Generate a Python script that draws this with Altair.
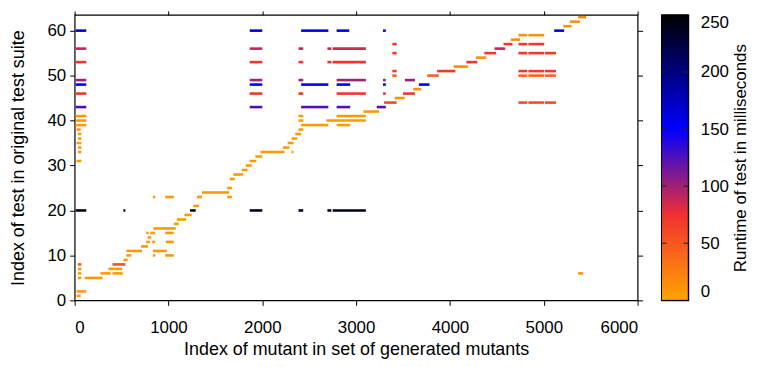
import altair as alt
import pandas as pd

# Segments: (start index, end index, test index, runtime ms)
x_start = [10, 10, 10, 10, 10, 10, 10, 10, 10, 10, 20, 35, 35, 20, 35, 35, 20,
           10, 520, 1230, 1866, 2386, 2694, 2750,
           35, 403, 35, 360, 35, 276, 403, 35, 106, 20, 20,
           520, 551, 834, 965, 551, 834, 707, 763, 827, 972, 777, 763, 806, 965,
           838, 1057, 1089, 1170, 1265, 834, 965, 1304, 1626, 1357, 1626, 1654,
           1690, 1781, 1824, 1866, 1926, 1980, 2312, 2220, 2270, 2312, 2350, 2386,
           2414, 2792, 2386, 2683, 2386, 2792, 3079,
           1866, 1866, 1866, 1866, 1866, 1866, 1866,
           2386, 2386, 2386, 2386,
           2414, 2414, 2414,
           2694, 2694, 2750, 2750,
           2792, 2792, 2792, 2792, 2792,
           3287, 3287, 3287, 3287, 3220,
           3386, 3386, 3386, 3386, 3298, 3411, 3500, 3520, 3609, 3669, 3757, 3863,
           4040, 4175, 4277, 4366, 4475, 4571, 4648,
           4730, 4836, 4730, 4836,
           4730, 4836, 5013, 4730, 4836, 5013, 4730, 4836, 5013, 4730, 4836, 5013,
           5111, 5207, 5278, 5366, 5366]
x_end = [124, 124, 124, 124, 124, 124, 124, 124, 124, 124, 65, 71, 71, 71, 71, 71, 71,
         124, 540, 1290, 2000, 2436, 2736, 3104,
         71, 541, 71, 506, 71, 382, 512, 71, 297, 124, 65,
         565, 604, 859, 1057, 718, 983, 781, 802, 859, 1057, 817, 788, 859, 1057,
         1078, 1110, 1188, 1248, 1325, 859, 1057, 1357, 1676, 1647, 1676, 1707,
         1796, 1842, 1888, 1937, 2000, 2237, 2333, 2290, 2333, 2372, 2414, 2436,
         2704, 2937, 2436, 3104, 2436, 3104, 3245,
         2000, 2000, 2000, 2000, 2000, 2000, 2000,
         2436, 2436, 2436, 2436,
         2704, 2704, 2704,
         2736, 2736, 3104, 3104,
         3104, 3104, 2927, 2937, 2937,
         3316, 3316, 3316, 3316, 3316,
         3432, 3432, 3432, 3432, 3432, 3517, 3627, 3627, 3694, 3782, 3881, 4058,
         4192, 4292, 4387, 4493, 4589, 4666, 4747,
         4825, 5005, 4825, 5005,
         4825, 5005, 5130, 4825, 5005, 5130, 4825, 5005, 5130, 4825, 5005, 5130,
         5217, 5296, 5384, 5451, 5419]
test_index = [60, 56, 53, 49, 48, 46, 43, 41, 40, 39, 38, 37, 36, 35, 34, 33, 31,
              20, 20, 20, 20, 20, 20, 20,
              8, 8, 7, 7, 6, 6, 6, 5, 5, 2, 1,
              9, 10, 10, 10, 11, 11, 12, 13, 13, 13, 14, 15, 15, 15,
              16, 17, 18, 19, 21, 23, 23, 23, 23, 24, 25, 27,
              28, 29, 30, 31, 32, 33, 33, 34, 35, 36, 37, 38,
              39, 39, 40, 40, 41, 41, 42,
              60, 56, 53, 49, 48, 46, 43,
              56, 53, 49, 46,
              60, 48, 43,
              56, 53, 56, 53,
              49, 46, 60, 48, 43,
              60, 49, 48, 46, 43,
              57, 55, 51, 50, 44, 45, 46, 49, 47, 48, 50, 51,
              52, 53, 54, 55, 56, 57, 58,
              59, 59, 57, 57,
              55, 55, 55, 51, 51, 51, 50, 50, 50, 44, 44, 44,
              60, 61, 62, 63, 6]
runtime_ms = [158, 90, 72, 100, 152, 72, 125, 8, 8, 8, 8, 8, 8, 8, 8, 8, 8,
              240, 240, 240, 240, 240, 240, 240,
              50, 55, 8, 8, 8, 8, 8, 8, 8, 8, 8,
              8, 8, 8, 8, 8, 8, 8, 8, 8, 8, 8, 8, 8, 8,
              8, 8, 8, 8, 8, 8, 8, 8, 8, 8, 8, 8,
              8, 8, 8, 8, 8, 8, 8, 8, 8, 8, 8, 8,
              8, 8, 8, 8, 8, 8, 8,
              158, 90, 72, 100, 152, 72, 125,
              90, 72, 100, 72,
              158, 152, 125,
              88, 72, 85, 72,
              100, 72, 158, 152, 125,
              155, 100, 152, 72, 125,
              70, 70, 70, 45, 58, 12, 72, 100, 15, 152, 45, 70,
              15, 72, 15, 70, 90, 70, 15,
              12, 12, 70, 70,
              70, 70, 70, 70, 70, 70, 42, 42, 42, 58, 58, 58,
              155, 12, 15, 20, 12]

x_ticks = [0, 1000, 2000, 3000, 4000, 5000, 6000]
y_ticks = [0, 10, 20, 30, 40, 50, 60]
cb_ticks = [0, 50, 100, 150, 200, 250]
palette_ms = [0, 75, 150, 250]
palette_colors = ["#FFA500", "#F03030", "#0000FF", "#000000"]

df = pd.DataFrame({"x0": x_start, "x1": x_end, "y": test_index, "ms": runtime_ms})

FONT = "Liberation Sans"
LFS = 17   # tick labels
TFS = 18   # axis titles
W, H = 566, 287

xscale = alt.Scale(domain=[0, 6000], nice=False)
yscale = alt.Scale(domain=[0, 63.5], nice=False)

color = alt.Color(
    "ms:Q",
    scale=alt.Scale(domain=palette_ms, range=palette_colors, interpolate="rgb"),
    legend=None,
)

base = alt.Chart(df).mark_rule(strokeWidth=2.6).encode(
    x=alt.X("x0:Q", scale=xscale,
            axis=alt.Axis(orient="bottom", values=x_ticks, format="d", grid=False,
                          domain=False, tickColor="black", tickSize=5,
                          labelFont=FONT, labelFontSize=LFS, labelColor="black",
                          labelPadding=14, title="Index of mutant in set of generated mutants",
                          titleFont=FONT, titleFontSize=TFS, titleFontWeight="normal",
                          titleColor="black", titlePadding=5)),
    x2="x1:Q",
    y=alt.Y("y:Q", scale=yscale,
            axis=alt.Axis(orient="left", values=y_ticks, format="d", grid=False,
                          domain=False, tickColor="black", tickSize=5,
                          labelFont=FONT, labelFontSize=LFS, labelColor="black",
                          labelPadding=4, title="Index of test in original test suite",
                          titleFont=FONT, titleFontSize=TFS, titleFontWeight="normal",
                          titleColor="black", titlePadding=20)),
    color=color,
)

mirror = alt.Chart(df).mark_point(opacity=0).encode(
    x=alt.X("x0:Q", scale=xscale,
            axis=alt.Axis(orient="top", values=x_ticks, labels=False, title=None,
                          grid=False, domain=False, tickColor="black", tickSize=4)),
    y=alt.Y("y:Q", scale=yscale,
            axis=alt.Axis(orient="right", values=y_ticks, labels=False, title=None,
                          grid=False, domain=False, tickColor="black", tickSize=5)),
)

main = alt.layer(base, mirror).resolve_axis(
    x="independent", y="independent"
).properties(width=W, height=H)

# colour bar
cbscale = alt.Scale(domain=[0, 250], nice=False)
stops = [alt.GradientStop(offset=v / 250, color=c) for v, c in zip(palette_ms, palette_colors)]
grad = alt.LinearGradient(gradient="linear", stops=stops, x1=0, x2=0, y1=1, y2=0)

CBW = 27
bar_df = pd.DataFrame({"lo": [0], "hi": [250]})
bar = alt.Chart(bar_df).mark_rect(fill=grad, stroke="black", strokeWidth=1).encode(
    y=alt.Y("lo:Q", scale=cbscale,
            axis=alt.Axis(orient="right", values=cb_ticks, format="d", grid=False,
                          domain=False, ticks=False, labelFlush=True,
                          labelFont=FONT, labelFontSize=LFS, labelColor="black",
                          labelPadding=12, title="Runtime of test in milliseconds",
                          titleAngle=270, titleBaseline="top",
                          titleFont=FONT, titleFontSize=17,
                          titleFontWeight="normal", titleColor="black", titlePadding=4)),
    y2="hi:Q",
    x=alt.value(0), x2=alt.value(CBW),
)
tick_df = pd.DataFrame({"v": cb_ticks[1:-1]})
lt = alt.Chart(tick_df).mark_rule(color="#222222", strokeWidth=1).encode(
    y=alt.Y("v:Q", scale=cbscale), x=alt.value(0), x2=alt.value(5))
rt = alt.Chart(tick_df).mark_rule(color="#222222", strokeWidth=1).encode(
    y=alt.Y("v:Q", scale=cbscale), x=alt.value(CBW - 5), x2=alt.value(CBW))
cbar = alt.layer(bar, lt, rt).properties(width=CBW, height=H)

chart = alt.hconcat(main, cbar, spacing=15).properties(
    padding={"left": 0, "top": 0, "right": 0, "bottom": 0},
).configure_view(stroke="black", strokeWidth=1.2)

chart.save("out.html", embed_options={"renderer": "svg", "actions": False})
